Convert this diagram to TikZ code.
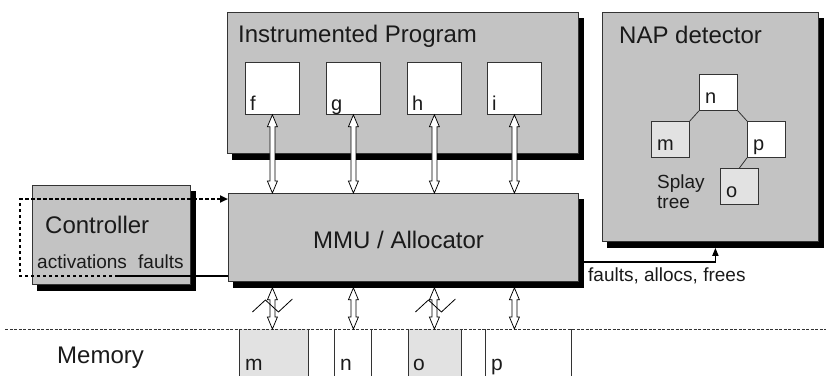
\documentclass[tikz,border=0pt]{standalone}
\usepackage{fontspec}
\setmainfont{Liberation Sans}
\usetikzlibrary{arrows.meta,calc}
\definecolor{boxgray}{HTML}{C3C3C3}
\definecolor{cellgray}{HTML}{E2E2E2}
\definecolor{txt}{HTML}{1A1A1A}
\definecolor{edge}{HTML}{333333}

\newcommand\dbarrow[2]{%
  \path let \p1=(#1), \p2=(#2) in
    [dblar] (\x1,\y1) -- ({\x1+5pt},{\y1-12pt}) -- ({\x1+2.5pt},{\y1-12pt})
    -- ({\x1+2.5pt},{\y2+12pt}) -- ({\x1+5pt},{\y2+12pt}) -- (\x1,\y2)
    -- ({\x1-5pt},{\y2+12pt}) -- ({\x1-2.5pt},{\y2+12pt})
    -- ({\x1-2.5pt},{\y1-12pt}) -- ({\x1-5pt},{\y1-12pt}) -- cycle;}

\begin{document}
\begin{tikzpicture}[x=1pt,y=-1pt,
  panel/.style={draw=edge, line width=0.8pt, fill=boxgray, anchor=north west, inner sep=0pt},
  shadowbox/.style={fill=black, draw=black, line width=0.8pt, anchor=north west, inner sep=0pt},
  fbox/.style={draw=edge, line width=0.8pt, fill=white, anchor=north west, inner sep=0pt,
    minimum width=54pt, minimum height=52pt},
  tbox/.style={draw=edge, line width=0.8pt, fill=white, anchor=north west, inner sep=0pt,
    minimum width=38pt, minimum height=36pt},
  cell/.style={anchor=north west, inner sep=0pt, minimum height=50pt},
  cellside/.style={draw=edge, line width=0.8pt},
  dblar/.style={draw=black, fill=white, line width=0.75pt, line join=miter},
  tlab/.style={anchor=base west, inner sep=0pt, text=txt},
  t24/.style={tlab, font=\fontsize{24}{28}\selectfont},
  t21/.style={tlab, font=\fontsize{21}{24}\selectfont},
  t20/.style={tlab, font=\fontsize{20}{24}\selectfont},
  t19/.style={tlab, font=\fontsize{19}{22}\selectfont},
  dotline/.style={draw=black, line width=2pt, dash pattern=on 3.5pt off 2.5pt},
  solidline/.style={draw=black, line width=1.5pt},
  zig/.style={draw=black, line width=0.8pt}
]
\useasboundingbox (0,0) rectangle (826,375);

% memory cells and line
\coordinate (memL) at (5,329);
\coordinate (memR) at (826,329);
\node[cell, fill=cellgray, minimum width=69pt] (mm) at (239,329) {};
\node[cell, fill=white, minimum width=37pt] (mn) at (334,329) {};
\node[cell, fill=cellgray, minimum width=53pt] (mo) at (408,329) {};
\node[cell, fill=white, minimum width=86pt] (mp) at (485,329) {};
\foreach \c in {mm,mn,mo,mp}{
  \draw[cellside] (\c.north west) -- (\c.south west) (\c.north east) -- (\c.south east);
}
\draw[edge, line width=0.8pt, dash pattern=on 3pt off 1.5pt] (memL) -- (memR);
\node[t21] (mml) at (245,370) {m};
\node[t21] (mnl) at (340,370) {n};
\node[t21] (mol) at (413,370) {o};
\node[t21] (mpl) at (491,370) {p};
\node[t24] (meml) at (57,363) {Memory};

% panel shadows
\node[shadowbox, minimum width=351pt, minimum height=141pt] (progsh) at (232,18) {};
\node[shadowbox, minimum width=216pt, minimum height=229pt] (napsh) at (607,18) {};
\node[shadowbox, minimum width=158pt, minimum height=99pt] (ctrlsh) at (37,191) {};
\node[shadowbox, minimum width=350pt, minimum height=88pt] (mmush) at (233,199) {};
% panels
\node[panel, minimum width=351pt, minimum height=141pt] (prog) at (227,12) {};
\node[panel, minimum width=216pt, minimum height=229pt] (nap) at (602,12) {};
\node[panel, minimum width=158pt, minimum height=99pt] (ctrl) at (32,185) {};
\node[panel, minimum width=350pt, minimum height=88pt] (mmu) at (228,193) {};

\node[t24] (progl) at (238,42) {Instrumented Program};
\node[t24] (napl) at (619,43) {NAP detector};
\node[t24] (ctrll) at (45,233) {Controller};
\node[t19] (actl) at (37,268) {activations};
\node[t19] (fltl) at (138,268) {faults};
\node[t24] (mmul) at (313,248) {MMU / Allocator};

% program functions
\node[fbox] (f) at (245,62) {};
\node[fbox] (g) at (326,62) {};
\node[fbox] (h) at (407,62) {};
\node[fbox] (i) at (487,62) {};
\node[t20] (fl) at (250,110) {f};
\node[t20] (gl) at (331,110) {g};
\node[t20] (hl) at (412,110) {h};
\node[t20] (il) at (492,110) {i};

% splay tree
\node[tbox] (n) at (699,74) {};
\node[tbox, fill=cellgray] (m) at (651,121) {};
\node[tbox] (p) at (747,121) {};
\node[tbox, fill=cellgray] (o) at (720,168) {};
\draw[edge, line width=0.8pt] (n.south west) -- (m.north east);
\draw[edge, line width=0.8pt] (n.south east) -- (p.north west);
\draw[edge, line width=0.8pt] (p.south west) -- (o.north);
\node[t20] (nl) at (705,103) {n};
\node[t20] (ml) at (657,150) {m};
\node[t20] (pl) at (753,150) {p};
\node[t20] (ol) at (726,197) {o};
\node[t19] (splay) at (657,188) {Splay};
\node[t19] (tree) at (657,208) {tree};

% program <-> MMU arrows
\foreach \b in {f,g,h,i}{
  \dbarrow{\b.south}{\b.south |- mmu.north}
}
% MMU <-> memory arrows
\foreach \b in {f,g,h,i}{
  \dbarrow{\b.south |- mmush.south}{\b.south |- memL}
}
% broken-access marks
\draw[zig] ($(f.south |- memL)+(-20,-17)$) -- ++(13,-12) -- ++(13,12) -- ++(14,-13);
\draw[zig] ($(h.south |- memL)+(-19,-17)$) -- ++(13,-12) -- ++(13,12) -- ++(14,-13);

% controller loop
\coordinate (actv) at (118,276);
\coordinate (loopbl) at (20,276);
\coordinate (looptl) at (20,199);
\draw[solidline] (mmu.west |- actv) -- (actv);
\draw[dotline, -{Triangle[length=8pt,width=7pt]}] (actv) -- (loopbl) -- (looptl) -- (looptl -| mmu.west);

% faults to NAP detector
\coordinate (fy) at (0,262);
\draw[solidline, -{Triangle[length=8pt,width=6pt]}] (mmush.east |- fy) -| (napsh.south);
\node[t19] (fafl) at (588,281) {faults, allocs, frees};
\end{tikzpicture}
\end{document}
